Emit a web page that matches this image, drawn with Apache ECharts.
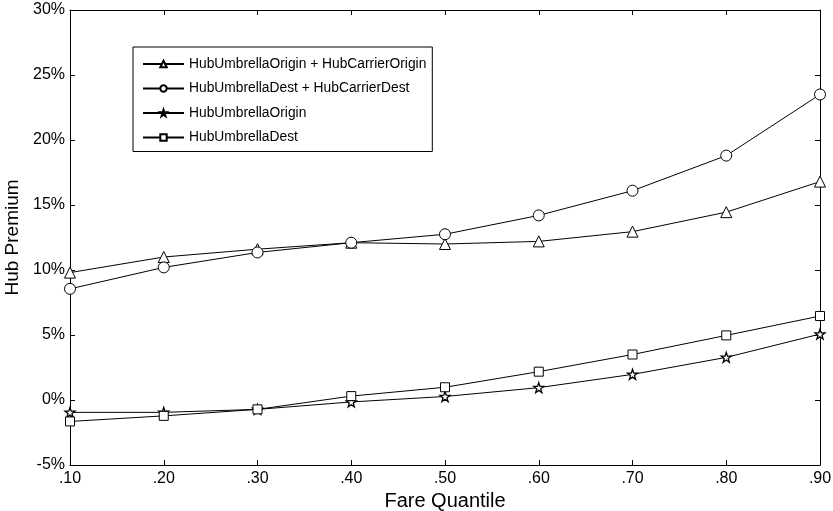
<!DOCTYPE html>
<html>
<head>
<meta charset="utf-8">
<script src="https://cdn.jsdelivr.net/npm/echarts@6/dist/echarts.min.js"></script>
<style>html,body{margin:0;padding:0;background:#fff}#c{width:833px;height:511px}</style>
</head>
<body>
<div id="c"></div>
<script>
var categories = ['.10', '.20', '.30', '.40', '.50', '.60', '.70', '.80', '.90'];
var umbOriginCarrier = [9.8, 11.0, 11.6, 12.1, 12.0, 12.2, 12.95, 14.45, 16.8];
var umbDestCarrier = [8.55, 10.2, 11.35, 12.1, 12.75, 14.2, 16.1, 18.8, 23.5];
var umbOrigin = [-0.95, -0.95, -0.72, -0.15, 0.27, 0.95, 1.97, 3.28, 5.07];
var umbDest = [-1.65, -1.22, -0.72, 0.3, 0.98, 2.18, 3.5, 4.97, 6.46];
var seriesNames = ['HubUmbrellaOrigin + HubCarrierOrigin', 'HubUmbrellaDest + HubCarrierDest', 'HubUmbrellaOrigin', 'HubUmbrellaDest'];
var yTicks = {min: -5, max: 30, interval: 5};

var FONT = '"Liberation Sans", Arial, sans-serif';
var star = 'path://M10 0 L12.35 6.76 L19.51 6.91 L13.80 11.24 L15.88 18.09 L10 14 L4.12 18.09 L6.20 11.24 L0.49 6.91 L7.65 6.76 Z';
function mk(name, data, symbol, size, bw) {
  return {
    name: name, type: 'line', data: data, symbol: symbol, symbolSize: size,
    showAllSymbol: true, xAxisIndex: 0, yAxisIndex: 0,
    lineStyle: {color: '#000', width: 1},
    itemStyle: {color: '#fff', borderColor: '#000', borderWidth: bw || 1},
    emphasis: {disabled: true}, animation: false
  };
}
var chart = echarts.init(document.getElementById('c'), null, {renderer: 'canvas'});
var axisLine = {show: true, onZero: false, lineStyle: {color: '#000', width: 1}};
chart.setOption({
  backgroundColor: '#fff',
  animation: false,
  grid: {left: 70, right: 13, top: 10, bottom: 46, containLabel: false, outerBoundsMode: 'none'},
  legend: {
    orient: 'vertical', left: 133, top: 47,
    padding: [10, 6, 7, 9], itemGap: 10.5, itemWidth: 41, itemHeight: 8,
    borderColor: '#000', borderWidth: 1, backgroundColor: '#fff',
    textStyle: {fontFamily: FONT, fontSize: 13.8, color: '#000'},
    data: seriesNames
  },
  xAxis: [{
    type: 'category', data: categories, boundaryGap: false, position: 'bottom',
    name: 'Fare Quantile', nameLocation: 'middle', nameGap: 25,
    nameTextStyle: {fontFamily: FONT, fontSize: 20, color: '#000'},
    axisLine: axisLine,
    axisTick: {show: true, inside: true, length: 5, alignWithLabel: true, lineStyle: {color: '#000'}},
    axisLabel: {fontFamily: FONT, fontSize: 16, color: '#000', margin: 6},
    splitLine: {show: false}
  }, {
    type: 'category', data: categories, boundaryGap: false, position: 'top',
    axisLine: axisLine,
    axisTick: {show: true, inside: true, length: 5, lineStyle: {color: '#000'}},
    axisLabel: {show: false}, splitLine: {show: false}
  }],
  yAxis: [{
    type: 'value', min: yTicks.min, max: yTicks.max, interval: yTicks.interval, position: 'left',
    name: 'Hub Premium', nameLocation: 'middle', nameGap: 45, nameRotate: 90,
    nameTextStyle: {fontFamily: FONT, fontSize: 19, color: '#000'},
    axisLine: axisLine,
    axisTick: {show: true, inside: true, length: 5, lineStyle: {color: '#000'}},
    axisLabel: {fontFamily: FONT, fontSize: 16, color: '#000', margin: 5, formatter: '{value}%'},
    splitLine: {show: false}
  }, {
    type: 'value', min: yTicks.min, max: yTicks.max, interval: yTicks.interval, position: 'right',
    axisLine: axisLine,
    axisTick: {show: true, inside: true, length: 5, lineStyle: {color: '#000'}},
    axisLabel: {show: false}, splitLine: {show: false}
  }],
  series: [
    mk(seriesNames[0], umbOriginCarrier, 'triangle', 11),
    mk(seriesNames[1], umbDestCarrier, 'circle', 11),
    mk(seriesNames[2], umbOrigin, star, 10, 1.3),
    mk(seriesNames[3], umbDest, 'rect', 9)
  ]
});
</script>
</body>
</html>
